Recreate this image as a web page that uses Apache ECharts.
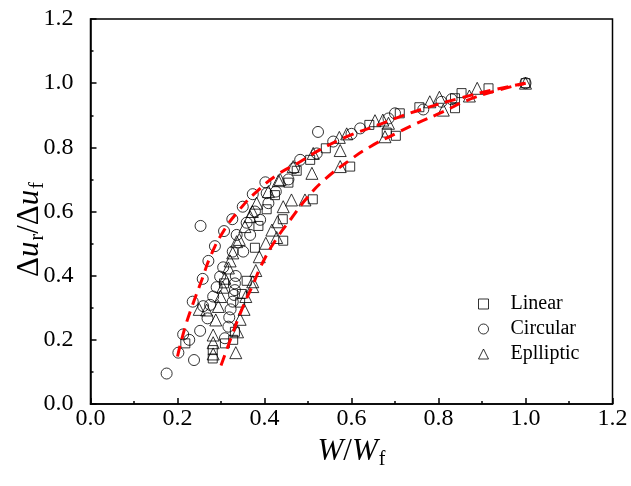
<!DOCTYPE html>
<html><head><meta charset="utf-8">
<script src="https://cdn.jsdelivr.net/npm/echarts@6/dist/echarts.min.js"></script>
<style>html,body{margin:0;padding:0;background:#fff}#c{width:631px;height:486px}</style>
</head><body><div id="c"></div>
<script>
var seriesNames = ['Linear', 'Circular', 'Eplliptic'];
var xTicks = [0, 0.2, 0.4, 0.6, 0.8, 1.0, 1.2];
var yTicks = [0, 0.2, 0.4, 0.6, 0.8, 1.0, 1.2];

var linearData = [[0.218,0.189],[0.281,0.168],[0.281,0.142],[0.309,0.189],[0.328,0.200],[0.332,0.225],[0.307,0.376],[0.344,0.316],[0.348,0.343],[0.359,0.384],[0.378,0.487],[0.386,0.555],[0.405,0.607],[0.424,0.651],[0.443,0.509],[0.442,0.576],[0.455,0.690],[0.474,0.727],[0.505,0.761],[0.511,0.638],[0.541,0.797],[0.597,0.740],[0.641,0.870],[0.681,0.846],[0.702,0.836],[0.711,0.906],[0.756,0.925],[0.838,0.922],[0.838,0.953],[0.853,0.969],[0.915,0.984],[1.0,1.0]];

var circularData = [[0.175,0.095],[0.202,0.160],[0.238,0.137],[0.213,0.217],[0.227,0.200],[0.252,0.228],[0.235,0.319],[0.258,0.390],[0.271,0.446],[0.286,0.492],[0.253,0.555],[0.307,0.539],[0.326,0.576],[0.350,0.615],[0.373,0.654],[0.402,0.691],[0.259,0.305],[0.275,0.309],[0.269,0.267],[0.282,0.335],[0.290,0.364],[0.298,0.397],[0.305,0.426],[0.317,0.241],[0.309,0.205],[0.319,0.270],[0.322,0.295],[0.327,0.319],[0.330,0.340],[0.332,0.376],[0.334,0.399],[0.332,0.355],[0.327,0.475],[0.336,0.527],[0.351,0.475],[0.367,0.527],[0.359,0.565],[0.390,0.574],[0.378,0.600],[0.409,0.626],[0.405,0.657],[0.426,0.662],[0.455,0.700],[0.468,0.735],[0.482,0.761],[0.520,0.781],[0.523,0.848],[0.558,0.818],[0.600,0.842],[0.620,0.859],[0.700,0.906],[0.685,0.890],[0.765,0.918],[0.807,0.942],[0.830,0.950],[1.0,1.0]];

var ellipticData = [[0.250,0.295],[0.267,0.293],[0.282,0.215],[0.282,0.191],[0.282,0.156],[0.288,0.262],[0.294,0.304],[0.299,0.335],[0.304,0.364],[0.309,0.392],[0.317,0.424],[0.321,0.446],[0.327,0.471],[0.336,0.506],[0.342,0.513],[0.355,0.553],[0.367,0.584],[0.372,0.600],[0.382,0.626],[0.409,0.662],[0.432,0.696],[0.436,0.700],[0.466,0.740],[0.509,0.719],[0.512,0.781],[0.334,0.160],[0.338,0.225],[0.344,0.264],[0.353,0.295],[0.357,0.335],[0.373,0.366],[0.373,0.381],[0.380,0.416],[0.388,0.459],[0.403,0.501],[0.417,0.542],[0.428,0.519],[0.430,0.568],[0.443,0.615],[0.462,0.636],[0.493,0.636],[0.574,0.740],[0.574,0.790],[0.572,0.831],[0.589,0.842],[0.654,0.883],[0.672,0.885],[0.677,0.833],[0.685,0.875],[0.780,0.942],[0.802,0.956],[0.811,0.916],[0.871,0.960],[0.889,0.984],[1.0,1.0]];

var upperFit = [[0.200,0.148],[0.217,0.237],[0.236,0.314],[0.256,0.387],[0.276,0.461],[0.305,0.537],[0.342,0.605],[0.382,0.662],[0.432,0.717],[0.482,0.755],[0.527,0.792],[0.589,0.833],[0.658,0.868],[0.704,0.892],[0.765,0.920],[0.849,0.953],[0.926,0.979],[1.0,1.0]];
var lowerFit = [[0.300,0.120],[0.327,0.220],[0.348,0.295],[0.373,0.371],[0.397,0.444],[0.428,0.516],[0.462,0.579],[0.497,0.641],[0.537,0.698],[0.597,0.761],[0.643,0.802],[0.700,0.842],[0.750,0.875],[0.811,0.911],[0.865,0.946],[0.926,0.974],[1.0,1.0]];

var FONT = '"Liberation Serif","Times New Roman",serif';
var chart = echarts.init(document.getElementById('c'));
function markerSeries(name, data, symbol, size) {
  return {
    name: name, type: 'scatter', data: data, symbol: symbol, symbolSize: size,
    itemStyle: { color: 'rgba(255,255,255,0)', borderColor: '#000', borderWidth: 1 },
    z: 2
  };
}
function fitSeries(data) {
  return {
    type: 'line', data: data, smooth: true, symbol: 'none', silent: true, z: 3,
    lineStyle: { color: '#ff0000', width: 3, type: [11, 7] }
  };
}
var nameRich = {
  i: { fontFamily: FONT, fontSize: 31, fontStyle: 'italic', color: '#000' },
  n: { fontFamily: FONT, fontSize: 31, color: '#000' },
  s: { fontFamily: FONT, fontSize: 20, color: '#000', padding: [16,0,0,1] }
};
chart.setOption({
  animation: false,
  backgroundColor: '#fff',
  grid: { left: 90.5, right: 18.5, top: 19, bottom: 82, containLabel: false, outerBoundsMode: 'none', show: true, borderColor: '#000', borderWidth: 1.5, backgroundColor: 'transparent' },
  legend: {
    data: seriesNames, orient: 'vertical', left: 473, top: 289,
    itemWidth: 10, itemHeight: 10, itemGap: 5,
    textStyle: { fontFamily: FONT, fontSize: 20, color: '#000', padding: [0,0,0,17] },
    itemStyle: { borderWidth: 1, borderColor: '#000', color: 'rgba(255,255,255,0)' }
  },
  xAxis: {
    type: 'value', min: xTicks[0], max: xTicks[xTicks.length-1], interval: 0.2,
    axisLine: { onZero: false, lineStyle: { color: '#000', width: 1.5 } },
    axisTick: { inside: true, length: 6, lineStyle: { color: '#000', width: 1.5 } },
    minorTick: { show: true, splitNumber: 2, length: 3, lineStyle: { color: '#000', width: 1.5 } },
    splitLine: { show: false },
    axisLabel: { fontFamily: FONT, fontSize: 24, color: '#000', margin: 3, formatter: function(v){ return v.toFixed(1); } },
    name: '{i|W}{n|/}{i|W}{s|f}', nameLocation: 'middle', nameGap: 30, nameMoveOverlap: false,
    nameTextStyle: { rich: nameRich }
  },
  yAxis: {
    type: 'value', min: yTicks[0], max: yTicks[yTicks.length-1], interval: 0.2,
    axisLine: { onZero: false, lineStyle: { color: '#000', width: 1.5 } },
    axisTick: { inside: true, length: 6, lineStyle: { color: '#000', width: 1.5 } },
    minorTick: { show: true, splitNumber: 2, length: 3, lineStyle: { color: '#000', width: 1.5 } },
    splitLine: { show: false },
    axisLabel: { fontFamily: FONT, fontSize: 24, color: '#000', margin: 17, formatter: function(v){ return v.toFixed(1); } },
    name: '{n|Δ}{i|u}{s|r}{n|/}{n|Δ}{i|u}{s|f}', nameLocation: 'middle', nameGap: 43, nameRotate: 90, nameMoveOverlap: false,
    nameTextStyle: { rich: nameRich, padding: [0, 36, 0, 0] }
  },
  series: [
    markerSeries(seriesNames[0], linearData, 'rect', 9),
    markerSeries(seriesNames[1], circularData, 'circle', 11),
    markerSeries(seriesNames[2], ellipticData, 'triangle', 12),
    fitSeries(upperFit),
    fitSeries(lowerFit)
  ]
});
</script></body></html>
